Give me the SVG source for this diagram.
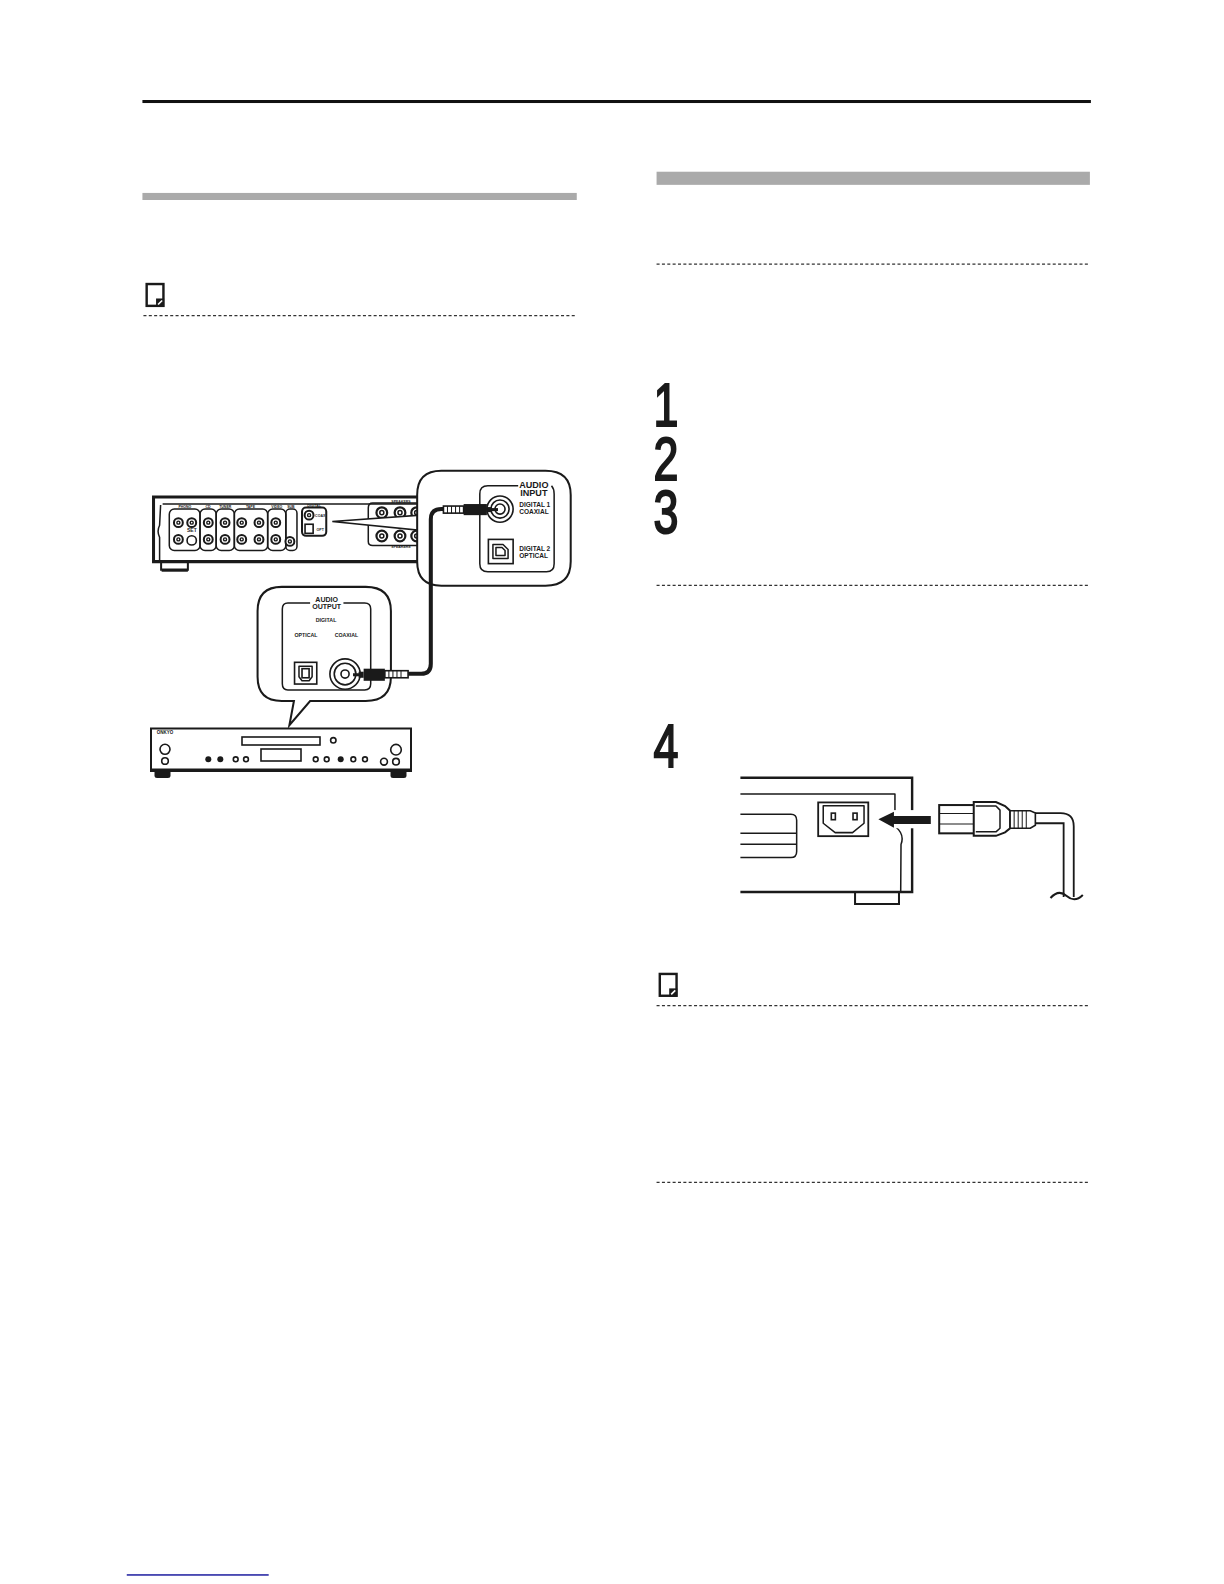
<svg xmlns="http://www.w3.org/2000/svg" width="1224" height="1584" viewBox="0 0 1224 1584">
<style>
.s{fill:none;stroke:#1a1a1a;stroke-width:1.5;stroke-linejoin:round}
.t{fill:none;stroke:#1a1a1a;stroke-width:3}
.j{fill:#fff;stroke:#1a1a1a;stroke-width:1.6}
.d{stroke:#333;stroke-width:1.2;stroke-dasharray:3 2.300;fill:none}
.b{fill:#1a1a1a}
.l{font-family:"Liberation Sans",Arial,sans-serif;font-weight:bold;fill:#1a1a1a;text-anchor:middle}
.a{text-anchor:start}
.n{font-family:"Liberation Sans",Arial,sans-serif;font-size:60px;fill:#1a1a1a;stroke:#1a1a1a;stroke-width:2}
</style>
<defs>
<g id="jack"><circle r="4.400" fill="#fff" stroke="#1a1a1a" stroke-width="2"/><circle r="1.500" fill="#fff" stroke="#1a1a1a" stroke-width="1.400"/></g>
<g id="jackbig"><circle r="5.300" fill="#fff" stroke="#1a1a1a" stroke-width="2.200"/><circle r="2" fill="#fff" stroke="#1a1a1a" stroke-width="1.500"/></g>
<g id="note"><rect x="1.200" y="1.200" width="16.600" height="21.600" fill="#fff" stroke="#1a1a1a" stroke-width="2.400"/><rect x="10.500" y="15.500" width="8" height="8" fill="#1a1a1a"/><path d="M12.500 21.500l4-4" stroke="#fff" stroke-width="1.600"/></g>
</defs>
<rect width="1224" height="1584" fill="#fff"/>
<g id="cd-player">
<rect x="151" y="728.500" width="260" height="41" fill="#fff" stroke="#1a1a1a" stroke-width="2"/>
<path d="M150 770.500H412" stroke="#1a1a1a" stroke-width="3"/>
<path class="b" d="M154.500 771H170.500V776Q170.500 778 168 778H157Q154.500 778 154.500 776ZM390.500 771H406.500V776Q406.500 778 404 778H393Q390.500 778 390.500 776Z"/>
<rect x="242" y="737" width="78" height="8" class="j" stroke-width="2"/>
<text class="l" font-size="4.500" x="165" y="734">ONKYO</text>
<rect x="261" y="749" width="40" height="12" class="j"/>
<circle cx="165" cy="749.300" r="5" class="j" stroke-width="2.200"/><circle cx="165" cy="761" r="3.300" class="j"/>
<circle cx="208.300" cy="759.300" r="3" class="b"/><circle cx="220.300" cy="759.300" r="3" class="b"/><circle cx="235.700" cy="759.300" r="2.400" class="j"/><circle cx="246" cy="759.300" r="2.400" class="j"/>
<circle cx="315.700" cy="759.300" r="2.400" class="j"/><circle cx="326.700" cy="759.300" r="2.400" class="j"/><circle cx="340.700" cy="759.300" r="3" class="b"/><circle cx="353.300" cy="759.300" r="2.400" class="j"/><circle cx="365" cy="759.300" r="2.400" class="j"/>
<circle cx="333.300" cy="740.300" r="2.700" class="j"/>
<circle cx="396" cy="749.700" r="5.300" class="j" stroke-width="2.600"/><circle cx="384" cy="761.700" r="3.400" class="j"/><circle cx="396" cy="761.700" r="3.300" class="j" stroke-width="2.200"/>
</g>
<g transform="scale(1.0101)">
<g id="page-rules">
<rect x="141" y="99" width="939" height="3" fill="#111"/>
<rect x="141" y="191" width="430" height="7" fill="#aaa"/>
<rect x="650" y="170" width="429" height="13" fill="#aaa"/>
<path class="d" d="M142 312.500H571M650 261.500H1079M650 579.500H1079M650 995.500H1079M650 1170.500H1079"/>
<rect x="125.500" y="1558.500" width="140.500" height="1.400" fill="#10109a"/>
</g>
<g id="note-left"><use href="#note" x="144" y="280"/></g>
<g id="note-right"><use href="#note" x="652" y="963"/></g>
<g id="steps">
<text class="n" transform="translate(647 422) scale(.74 1)">1</text>
<text class="n" transform="translate(647 475) scale(.74 1)">2</text>
<text class="n" transform="translate(647 528) scale(.74 1)">3</text>
<text class="n" transform="translate(647 759) scale(.74 1)">4</text>
</g>
<g id="receiver">
<path class="t" d="M430 492H152V556H430"/>
<path class="s" d="M161 499H420M159 500L158 520Q155 526 158 532L158 556"/>
<path d="M159.500 557V564H186V557" fill="none" stroke="#1a1a1a" stroke-width="2"/><rect x="160" y="563" width="26" height="3" class="b"/>
<g class="s"><rect x="167.600" y="504" width="30.400" height="41" rx="5"/><rect x="198" y="504" width="16" height="41" rx="5"/><rect x="214" y="504" width="18" height="41" rx="5"/><rect x="232" y="504" width="33" height="41" rx="5"/><rect x="265" y="504" width="18" height="41" rx="5"/><rect x="283" y="504" width="11" height="41" rx="4"/><rect x="299" y="502.500" width="24" height="28" rx="4" stroke-width="2"/><path d="M364.600 528V503Q364.600 498 369 498H420M364.600 522V536Q364.600 540 369 540H420"/></g>
<use href="#jack" x="176.600" y="517.400"/><use href="#jack" x="176.600" y="534"/><use href="#jack" x="189.800" y="517.400"/><circle cx="189.800" cy="535" r="4.600" class="j" stroke-width="2"/><use href="#jack" x="206.200" y="517.400"/><use href="#jack" x="206.200" y="534"/><use href="#jack" x="222.800" y="517.400"/><use href="#jack" x="222.800" y="534"/><use href="#jack" x="239.300" y="517.400"/><use href="#jack" x="239.300" y="534"/><use href="#jack" x="256.400" y="517.400"/><use href="#jack" x="256.400" y="534"/><use href="#jack" x="273" y="517.400"/><use href="#jack" x="273" y="534"/><use href="#jack" x="287" y="536"/><use href="#jack" x="306" y="510"/><rect x="302" y="519" width="8" height="9" class="j"/><use href="#jackbig" x="378" y="507.500"/><use href="#jackbig" x="396" y="507.500"/><use href="#jackbig" x="412.500" y="507.500"/><use href="#jackbig" x="378" y="530.600"/><use href="#jackbig" x="396" y="530.600"/><use href="#jackbig" x="412.500" y="530.600"/>
<text class="l" font-size="3.500" x="183" y="503">PHONO</text><text class="l" font-size="3.500" x="206" y="503">CD</text><text class="l" font-size="3.500" x="223" y="503">TUNER</text><text class="l" font-size="3.500" x="248" y="503">TAPE</text><text class="l" font-size="3.500" x="274" y="503">VIDEO</text><text class="l" font-size="3.500" x="288" y="503">SUB</text><text class="l" font-size="5" x="190" y="527">SET</text><text class="l" font-size="3.500" x="311" y="501.500">DIGITAL</text><text class="l" font-size="3.500" x="317" y="512">COAX</text><text class="l" font-size="3.500" x="317" y="526">OPT</text><text class="l" font-size="3.500" x="397" y="498">SPEAKERS</text><text class="l" font-size="3.500" x="397" y="543">SPEAKERS</text>
<path d="M329 516.400L416 510V525Z" fill="#fff" stroke="#1a1a1a" stroke-width="1.500"/>
</g>
<g id="input-callout">
<path d="M413 490Q413 466 437 466H540Q565 466 565 490V556Q565 580 540 580H437Q413 580 413 556Z" fill="#fff" stroke="#1a1a1a" stroke-width="2"/>
<path class="s" stroke-width="2" d="M513 481H483Q475 481 475 489V558Q475 566 483 566H541Q548.600 566 548.600 558V489Q548.600 484 546 481"/>
<circle cx="495" cy="504" r="13" class="j" stroke-width="2"/><circle cx="495" cy="504" r="9" class="j"/><circle cx="495" cy="504" r="5" class="j"/>
<rect x="483.500" y="534" width="24.500" height="24" class="j"/><path class="s" d="M488 539H498L503 544V553H488ZM491 542H497L500 545V550H491Z"/>
<text class="l" font-size="9" x="528.500" y="483">AUDIO</text><text class="l" font-size="9" x="528.500" y="491">INPUT</text>
<text class="l a" font-size="6.500" x="514" y="502">DIGITAL 1</text><text class="l a" font-size="6.500" x="514" y="509">COAXIAL</text>
<text class="l a" font-size="6.500" x="514" y="545">DIGITAL 2</text><text class="l a" font-size="6.500" x="514" y="552">OPTICAL</text>
</g>
<g id="output-callout">
<path d="M255 605Q255 581 279 581H362Q387 581 387 605V670Q387 694 362 694H307L286.500 718L291 694H279Q255 694 255 670Z" fill="#fff" stroke="#1a1a1a" stroke-width="2"/>
<path class="s" stroke-width="2" d="M307 597H285Q279.500 597 279.500 603V677Q279.500 683 285 683H361Q367 683 367 677V603Q367 597 361 597H340"/>
<text class="l" font-size="7" x="323.400" y="596">AUDIO</text><text class="l" font-size="7" x="323.400" y="602.500">OUTPUT</text>
<text class="l" font-size="5.200" x="322.800" y="616">DIGITAL</text><text class="l" font-size="5.200" x="303" y="631">OPTICAL</text><text class="l" font-size="5.200" x="343" y="631">COAXIAL</text>
<rect x="291.600" y="655.700" width="22" height="21.500" class="j"/><path class="s" stroke-width="2" d="M296 659.500H309V670L306 674H299L296 670Z"/><rect x="299" y="662" width="7" height="9" class="j"/>
<circle cx="341.600" cy="667.300" r="15" class="j" stroke-width="2"/><circle cx="341.600" cy="667.300" r="10.700" class="j"/><circle cx="341.600" cy="667.300" r="4" class="j" stroke-width="2"/>
</g>
<g id="connectors">
<path d="M404 667H417Q426.500 667 426.500 657V514Q426.500 504 437 504H442" fill="none" stroke="#1a1a1a" stroke-width="4"/>
</g>
<g id="plug-top">
<rect x="439" y="501" width="20" height="7" class="j"/><path d="M443 501v7M447 501v7M451 501v7M455 501v7" stroke="#1a1a1a"/>
<path class="b" d="M459 499H482V510H459Z"/><rect x="482" y="502" width="5" height="5" class="b"/><path d="M486 504.500H493" stroke="#1a1a1a" stroke-width="3"/>
</g>
<g id="plug-bottom">
<rect x="381" y="664" width="23" height="7" class="j"/><path d="M385 664v7M389 664v7M393 664v7M397 664v7" stroke="#1a1a1a"/>
<path class="b" d="M360 662H381V674H360Z"/><rect x="355" y="665" width="5" height="6" class="b"/><path d="M356 668H349.500" stroke="#1a1a1a" stroke-width="3"/>
</g>
<g id="power-unit">
<path d="M733 770H903V883H733" fill="none" stroke="#1a1a1a" stroke-width="2.400"/>
<path class="s" d="M733 786H886V818Q896 826 892 836L891.700 883"/>
<path class="s" d="M733 806H783Q788.700 806 788.700 812V843Q788.700 849 783 849H733M733 825H788.700M733 835.700H788.700"/>
<path d="M846.500 883V895H890V883" fill="none" stroke="#1a1a1a" stroke-width="2"/>
<rect x="810" y="794.400" width="49.600" height="33.400" fill="#fff" stroke="#1a1a1a" stroke-width="1.800"/>
<path class="s" d="M815 797.600H855.400V815L844 824.300H826.800L815 815Z"/>
<rect x="823" y="805" width="4" height="6.500" class="j"/><rect x="844.500" y="805" width="4" height="6.500" class="j"/>
</g>
<g id="power-plug">
<path d="M1020 805H1050Q1063 805 1063 818V888" fill="none" stroke="#1a1a1a" stroke-width="1.800"/>
<path d="M1020 815H1053V888" fill="none" stroke="#1a1a1a" stroke-width="1.800"/>
<path d="M1040 889Q1048 880 1056 887T1072 886" fill="none" stroke="#1a1a1a" stroke-width="2"/>
<rect x="929.800" y="797" width="34.500" height="28" fill="#fff" stroke="#1a1a1a" stroke-width="2"/>
<path d="M929.800 805.300H964M929.800 815.700H964" stroke="#1a1a1a"/>
<path d="M964 794H986L995 798L1000 802.600V820L995 824L986 827.500H964Z" fill="#fff" stroke="#1a1a1a" stroke-width="2"/>
<path class="s" d="M966 798H986L990 802V820L986 823.500H966"/>
<path d="M1000 802.600H1020L1025 805V817L1020 820H1000Z" fill="#fff" stroke="#1a1a1a" stroke-width="1.600"/>
<path d="M1004 802.600v17.400M1008 802.600v17.400M1012 802.600v17.400M1016 802.600v17.400" stroke="#1a1a1a"/>
</g>
<g id="insert-arrow">
<rect x="880" y="802" width="40" height="18" fill="#fff"/>
<path class="b" d="M869.600 811L885 803.600V807.800H921.500V815.700H885V819.400Z"/>
</g>
</g>
</svg>
